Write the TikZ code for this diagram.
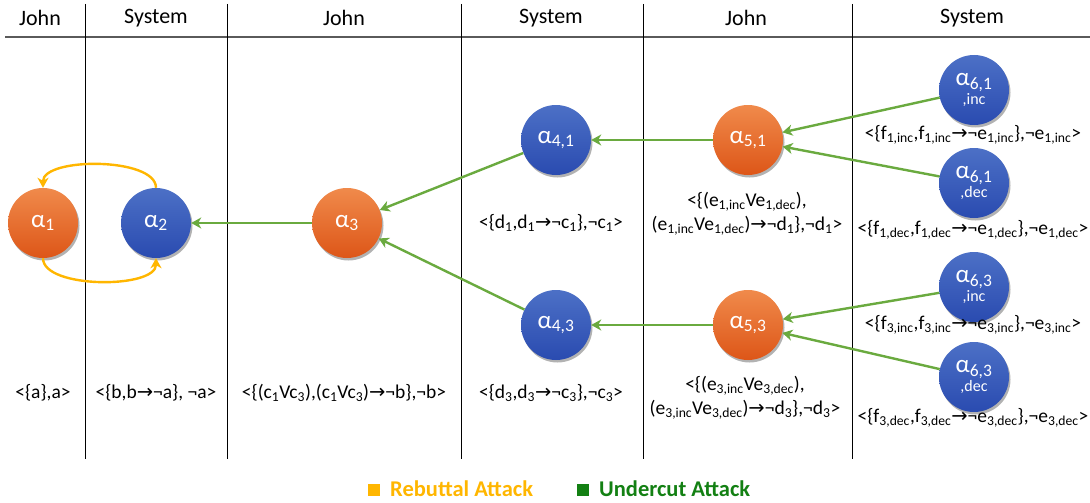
\documentclass[tikz,border=0pt]{standalone}
\usepackage{fontspec}
\setmainfont{Carlito}
\newfontfamily\arrowfont{DejaVu Sans}
\usetikzlibrary{arrows.meta,shadows}

\definecolor{orangeTop}{HTML}{F08A4B}
\definecolor{orangeBot}{HTML}{DD5618}
\definecolor{blueTop}{HTML}{4C70C6}
\definecolor{blueBot}{HTML}{2A4BB0}
\definecolor{undercutline}{HTML}{6AAA3F}
\definecolor{rebutgold}{HTML}{FFB600}
\definecolor{undercutgreen}{HTML}{138013}
\definecolor{headrule}{HTML}{5A5A5A}

\newcommand\sub[1]{\textsubscript{#1}}
\newcommand\imp{{\arrowfont\char"2192}}

\begin{document}
\begin{tikzpicture}[x=1pt,y=-1pt,
  arg/.style={circle, minimum size=70pt, inner sep=0pt, text=white, align=center,
    font=\fontsize{25}{20}\selectfont,
    drop shadow={shadow xshift=1.5pt, shadow yshift=-2.5pt, opacity=0.3, fill=black}},
  john/.style={arg, top color=orangeTop, bottom color=orangeBot},
  sys/.style={arg, top color=blueTop, bottom color=blueBot},
  undercut/.style={draw=undercutline, line width=2.4pt,
    -{Stealth[length=10pt,width=11pt,inset=3pt]}},
  rebut/.style={draw=rebutgold, line width=2.4pt,
    -{Stealth[length=10pt,width=11pt,inset=3pt]}},
  lbl/.style={font=\fontsize{19.5}{24}\selectfont, align=center, inner sep=0pt},
  head/.style={font=\fontsize{22}{24}\selectfont, inner sep=0pt},
  sep/.style={draw=black, line width=0.9pt},
  legend/.style={anchor=west, inner sep=0pt, font=\bfseries\fontsize{22.5}{24}\selectfont}
]
\useasboundingbox (0,0) rectangle (1090,503);

% column headers and separators
\node[head] (h1) at (40,18) {John};
\node[head] (h2) at (156,18) {System};
\node[head] (h3) at (344,18) {John};
\node[head] (h4) at (551,18) {System};
\node[head] (h5) at (746,18) {John};
\node[head] (h6) at (972,18) {System};
\draw[draw=headrule, line width=1.8pt] (5,37) -- (1090,37);
\foreach \x in {85,227,461,643,852}
  \draw[sep] (\x,4) -- (\x,459);

% arguments
\node[john] (a1) at (43,223) {α\sub{1}};
\node[sys]  (a2) at (156,223) {α\sub{2}};
\node[john] (a3) at (347,223) {α\sub{3}};
\node[sys]  (a41) at (556,140) {α\sub{4,1}};
\node[sys]  (a43) at (556,325) {α\sub{4,3}};
\node[john] (a51) at (748,140) {α\sub{5,1}};
\node[john] (a53) at (748,325) {α\sub{5,3}};
\node[sys]  (a61i) at (974,90) {α\sub{6,1}\\[-1pt]{\fontsize{16}{16}\selectfont ,inc}};
\node[sys]  (a61d) at (974,183) {α\sub{6,1}\\[-1pt]{\fontsize{16}{16}\selectfont ,dec}};
\node[sys]  (a63i) at (974,287) {α\sub{6,3}\\[-1pt]{\fontsize{16}{16}\selectfont ,inc}};
\node[sys]  (a63d) at (974,377) {α\sub{6,3}\\[-1pt]{\fontsize{16}{16}\selectfont ,dec}};

% argument contents
\node[lbl] (l1) at (43,393) {<\{a\},a>};
\node[lbl] (l2) at (156,393) {<\{b,b\imp¬a\}, ¬a>};
\node[lbl] (l3) at (344,393) {<\{(c\sub{1}Vc\sub{3}),(c\sub{1}Vc\sub{3})\imp¬b\},¬b>};
\node[lbl] (l41) at (551,223) {<\{d\sub{1},d\sub{1}\imp¬c\sub{1}\},¬c\sub{1}>};
\node[lbl] (l43) at (551,393) {<\{d\sub{3},d\sub{3}\imp¬c\sub{3}\},¬c\sub{3}>};
\node[lbl] (l51) at (747,214) {<\{(e\sub{1,inc}Ve\sub{1,dec}),\\(e\sub{1,inc}Ve\sub{1,dec})\imp¬d\sub{1}\},¬d\sub{1}>};
\node[lbl] (l53) at (745,398) {<\{(e\sub{3,inc}Ve\sub{3,dec}),\\(e\sub{3,inc}Ve\sub{3,dec})\imp¬d\sub{3}\},¬d\sub{3}>};
\node[lbl] (l61i) at (973,135) {<\{f\sub{1,inc},f\sub{1,inc}\imp¬e\sub{1,inc}\},¬e\sub{1,inc}>};
\node[lbl] (l61d) at (973,230) {<\{f\sub{1,dec},f\sub{1,dec}\imp¬e\sub{1,dec}\},¬e\sub{1,dec}>};
\node[lbl] (l63i) at (973,325) {<\{f\sub{3,inc},f\sub{3,inc}\imp¬e\sub{3,inc}\},¬e\sub{3,inc}>};
\node[lbl] (l63d) at (973,418) {<\{f\sub{3,dec},f\sub{3,dec}\imp¬e\sub{3,dec}\},¬e\sub{3,dec}>};

% rebuttal attacks
\draw[rebut] (a2.north) .. controls (156,157) and (43,157) .. (a1.north);
\draw[rebut] (a1.south) .. controls (43,289) and (156,289) .. (a2.south);

% undercut attacks
\draw[undercut] (a3) -- (a2);
\draw[undercut] (a41) -- (a3);
\draw[undercut] (a43) -- (a3);
\draw[undercut] (a51) -- (a41);
\draw[undercut] (a53) -- (a43);
\draw[undercut] (a61i) -- (a51);
\draw[undercut] (a61d) -- (a51);
\draw[undercut] (a63i) -- (a53);
\draw[undercut] (a63d) -- (a53);

% legend
\node[fill=rebutgold, minimum size=12pt, inner sep=0pt] (kr) at (374,490) {};
\node[legend, text=rebutgold] (tr) at (390,489) {Rebuttal Attack};
\node[fill=undercutgreen, minimum size=12pt, inner sep=0pt] (ku) at (583,490) {};
\node[legend, text=undercutgreen] (tu) at (599,489) {Undercut Attack};
\end{tikzpicture}
\end{document}
